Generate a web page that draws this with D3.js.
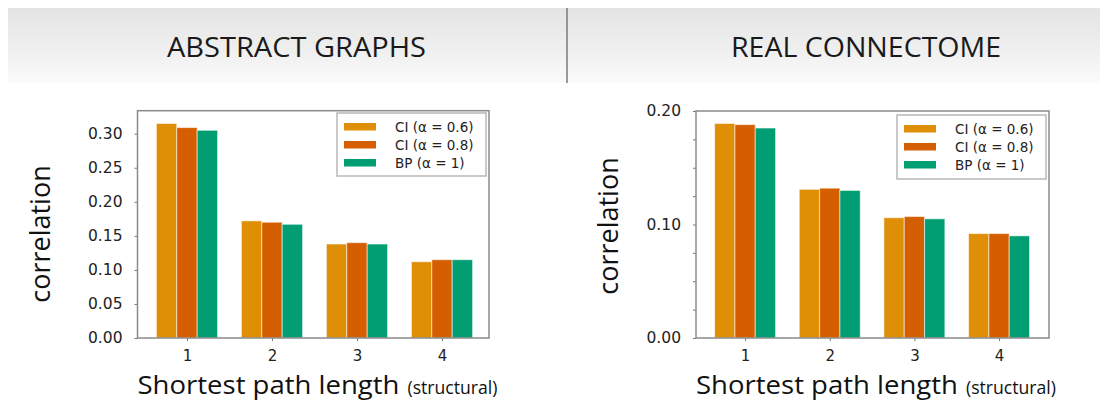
<!DOCTYPE html>
<html>
<head>
<meta charset="utf-8">
<script src="https://cdn.jsdelivr.net/npm/d3@7"></script>
<style>
  html, body { margin: 0; padding: 0; background: #fff; }
  svg { display: block; font-family: "Open Sans", "Noto Sans", sans-serif; }
</style>
</head>
<body>
<svg id="chart" width="1107" height="403"></svg>
<script>
// Shortest path length categories (x axis)
const categories = [1, 2, 3, 4];
const seriesNames = ["CI (α = 0.6)", "CI (α = 0.8)", "BP (α = 1)"];
const seriesColors = ["#DE8F05", "#D55E00", "#029E73"];

// Abstract graphs: correlation per path length
const abstractCI06 = [0.315, 0.172, 0.138, 0.112];
const abstractCI08 = [0.309, 0.170, 0.140, 0.115];
const abstractBP   = [0.305, 0.167, 0.138, 0.115];

// Real connectome: correlation per path length
const connectomeCI06 = [0.189, 0.131, 0.106, 0.092];
const connectomeCI08 = [0.188, 0.132, 0.107, 0.092];
const connectomeBP   = [0.185, 0.130, 0.105, 0.090];

// Tick values
const abstractTicks = [0.00, 0.05, 0.10, 0.15, 0.20, 0.25, 0.30];
const connectomeTicks = [0.00, 0.10, 0.20];
const connectomeMinorTicks = [0.025, 0.05, 0.075, 0.125, 0.15, 0.175];

const panelTitles = ["ABSTRACT GRAPHS", "REAL CONNECTOME"];

const svg = d3.select("#chart");
const tickFont = "'DejaVu Sans', Verdana, sans-serif";

// ---- header band ----
const defs = svg.append("defs");
const grad = defs.append("linearGradient")
  .attr("id", "band").attr("x1", 0).attr("y1", 0).attr("x2", 0).attr("y2", 1);
grad.append("stop").attr("offset", 0).attr("stop-color", "#e4e4e4");
grad.append("stop").attr("offset", 0.6).attr("stop-color", "#f0f0f0");
grad.append("stop").attr("offset", 1).attr("stop-color", "#fbfbfb");

svg.append("rect").attr("x", 8).attr("y", 8).attr("width", 1092).attr("height", 75)
  .attr("fill", "url(#band)");
svg.append("line").attr("x1", 567).attr("x2", 567).attr("y1", 8).attr("y2", 83)
  .attr("stroke", "#7a7a7a").attr("stroke-width", 1.5);

const titleSpecs = [
  { text: panelTitles[0], x: 167, w: 259 },
  { text: panelTitles[1], x: 731, w: 270 }
];
titleSpecs.forEach(t => {
  svg.append("text")
    .attr("x", t.x).attr("y", 57)
    .attr("textLength", t.w).attr("lengthAdjust", "spacingAndGlyphs")
    .attr("font-size", 28).attr("fill", "#1a1a1a")
    .text(t.text);
});

// ---- bar panels ----
const panels = [
  {
    series: [abstractCI06, abstractCI08, abstractBP],
    left: 137.5, right: 489, top: 110.7, bottom: 338,
    xDomain: [0.418, 4.553], yMax: 0.3338,
    ticks: abstractTicks, minor: [],
    legend: { x: 337, y: 113, w: 149, h: 63 },
    yTitle: { x: 50, y: 234 }
  },
  {
    series: [connectomeCI06, connectomeCI08, connectomeBP],
    left: 696, right: 1049, top: 111, bottom: 338,
    xDomain: [0.42, 4.59], yMax: 0.2,
    ticks: connectomeTicks, minor: connectomeMinorTicks,
    legend: { x: 897, y: 115, w: 149, h: 64 },
    yTitle: { x: 618, y: 226 }
  }
];

const barWidth = 0.24;

panels.forEach(p => {
  const g = svg.append("g");
  const x = d3.scaleLinear().domain(p.xDomain).range([p.left, p.right]);
  const y = d3.scaleLinear().domain([0, p.yMax]).range([p.bottom, p.top]);

  // bars
  p.series.forEach((vals, si) => {
    g.append("g").selectAll("rect")
      .data(categories.map((c, i) => ({ c, v: vals[i] })))
      .join("rect")
      .attr("x", d => x(d.c + (si - 1) * barWidth - barWidth / 2))
      .attr("width", d => x(d.c + barWidth / 2) - x(d.c - barWidth / 2))
      .attr("y", d => y(d.v))
      .attr("height", d => y(0) - y(d.v))
      .attr("fill", seriesColors[si])
      .attr("stroke", "#ffffff").attr("stroke-opacity", 0.55).attr("stroke-width", 1);
  });

  // y axis
  const yAxis = d3.axisLeft(y).tickValues(p.ticks).tickFormat(d3.format(".2f"))
    .tickSize(3).tickPadding(12);
  const ya = g.append("g").attr("transform", `translate(${p.left},0)`).call(yAxis);
  ya.select(".domain").remove();
  ya.selectAll("line").attr("stroke", "#777");
  ya.selectAll("text").attr("font-size", 15.5).attr("fill", "#222")
    .attr("font-family", tickFont);

  if (p.minor.length) {
    const ym = g.append("g").attr("transform", `translate(${p.left},0)`)
      .call(d3.axisLeft(y).tickValues(p.minor).tickSize(3).tickFormat(""));
    ym.select(".domain").remove();
    ym.selectAll("line").attr("stroke", "#777");
  }

  // x axis
  const xa = g.append("g").attr("transform", `translate(0,${p.bottom})`)
    .call(d3.axisBottom(x).tickValues(categories).tickFormat(d3.format("d"))
      .tickSize(3).tickPadding(9));
  xa.select(".domain").remove();
  xa.selectAll("line").attr("stroke", "#777");
  xa.selectAll("text").attr("font-size", 15).attr("fill", "#222")
    .attr("font-family", tickFont);

  // frame
  g.append("rect")
    .attr("x", p.left).attr("y", p.top)
    .attr("width", p.right - p.left).attr("height", p.bottom - p.top)
    .attr("fill", "none").attr("stroke", "#8a8a8a").attr("stroke-width", 1.5);

  // legend
  const L = p.legend;
  const lg = g.append("g");
  lg.append("rect").attr("x", L.x).attr("y", L.y).attr("width", L.w).attr("height", L.h)
    .attr("fill", "#fff").attr("stroke", "#b8b8b8").attr("stroke-width", 1.5);
  seriesNames.forEach((name, i) => {
    const ry = L.y + 10 + i * 18;
    lg.append("rect").attr("x", L.x + 7).attr("y", ry).attr("width", 32).attr("height", 7.5)
      .attr("fill", seriesColors[i]);
    lg.append("text").attr("x", L.x + 58).attr("y", ry + 9)
      .attr("font-size", 13.5).attr("font-family", tickFont)
      .attr("fill", "#222").text(name);
  });

  // y title
  g.append("text")
    .attr("transform", `translate(${p.yTitle.x},${p.yTitle.y}) rotate(-90)`)
    .attr("text-anchor", "middle").attr("font-size", 27).attr("fill", "#111")
    .text("correlation");

  // x title
  const xt = g.append("text").attr("y", 394).attr("fill", "#111");
  xt.append("tspan").attr("x", p.left).attr("font-size", 26)
    .attr("textLength", 262).attr("lengthAdjust", "spacingAndGlyphs")
    .text("Shortest path length");
  xt.append("tspan").attr("x", p.left + 270).attr("font-size", 19)
    .attr("textLength", 90).attr("lengthAdjust", "spacingAndGlyphs")
    .text("(structural)");
});
</script>
</body>
</html>
